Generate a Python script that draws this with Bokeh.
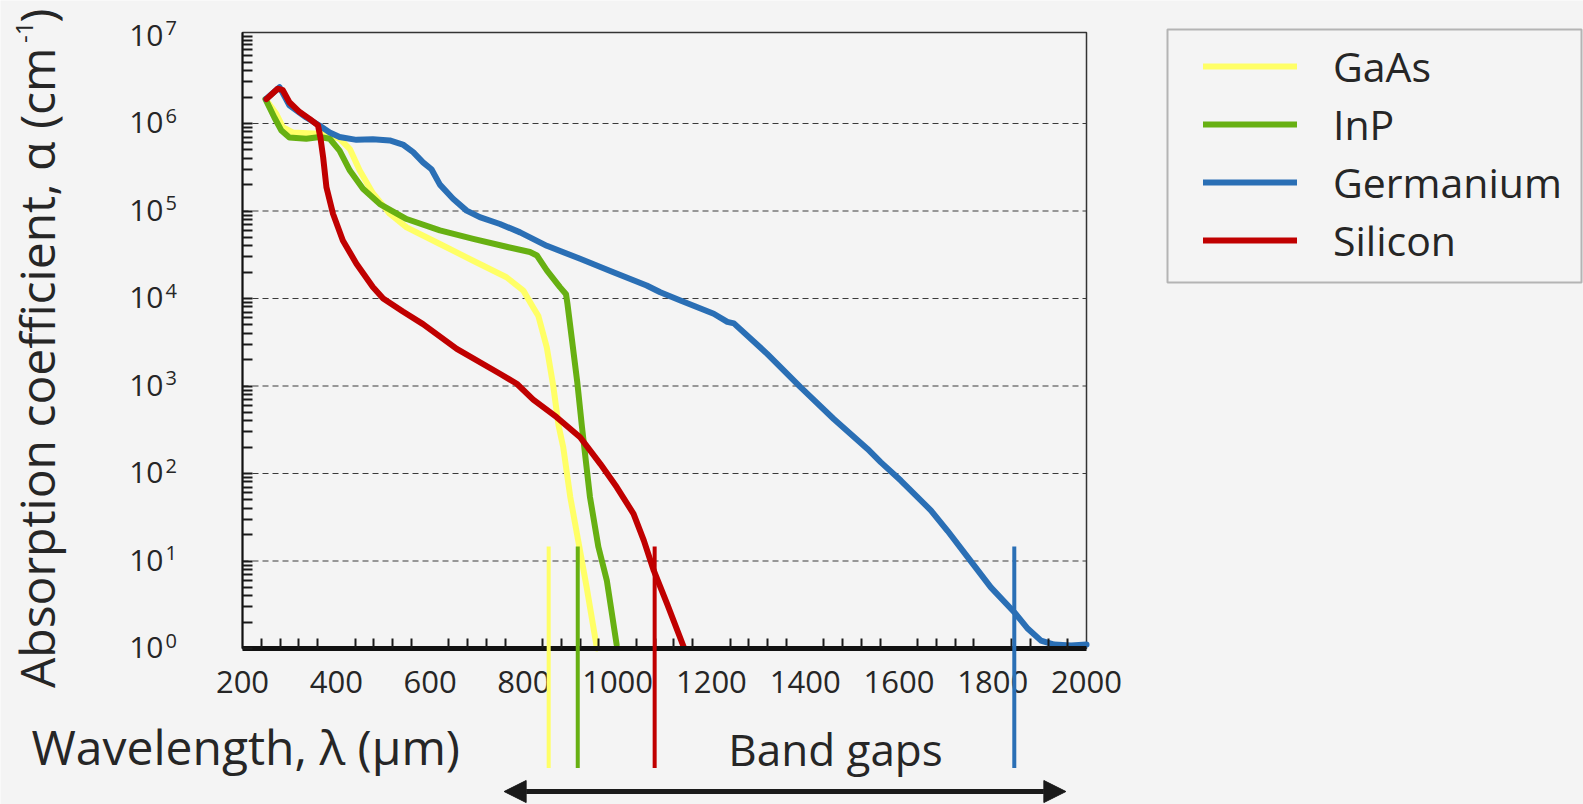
from math import pi
from bokeh.plotting import figure
from bokeh.models import (Range1d, FixedTicker, Label, Arrow, NormalHead, Legend,
                          LegendItem, CustomJSTickFormatter, BoxAnnotation)
from bokeh.embed import file_html
from bokeh.resources import INLINE

# ---------------- data ----------------
wl_gaas = [249, 272, 286, 307, 372, 407, 429, 450, 478, 514, 550, 621, 692, 763,
           799, 820, 831, 849, 863, 874, 884, 899, 916, 934, 956]
a_gaas = [1.9e6, 1.29e6, 9.1e5, 7.9e5, 7.6e5, 6.7e5, 5.1e5, 2.9e5, 1.6e5, 9.3e4,
          6.5e4, 4.2e4, 2.7e4, 1.75e4, 1.23e4, 7.9e3, 6.3e3, 2.75e3, 980, 355,
          200, 54, 17, 5.0, 1.0]

wl_inp = [249, 268, 283, 300, 336, 365, 386, 407, 429, 457, 493, 550, 621, 692,
          763, 813, 828, 849, 877, 890, 893, 902, 914, 924, 941, 959, 977, 998]
a_inp = [1.9e6, 1.17e6, 8.3e5, 6.9e5, 6.7e5, 7.0e5, 6.7e5, 4.9e5, 2.9e5, 1.8e5,
         1.2e5, 8.1e4, 6.0e4, 4.8e4, 3.9e4, 3.4e4, 3.1e4, 2.1e4, 1.35e4, 1.12e4,
         8.7e3, 3.6e3, 1.1e3, 340, 54, 14.5, 6.0, 1.1]

wl_ge = [250, 279, 300, 336, 364, 386, 407, 443, 478, 514, 542, 564, 585, 603,
         621, 649, 678, 706, 749, 792, 849, 920, 991, 1062, 1091, 1134, 1205,
         1234, 1248, 1319, 1390, 1461, 1533, 1561, 1604, 1668, 1704, 1747, 1796,
         1846, 1875, 1903, 1931, 1967, 2000]
a_ge = [1.9e6, 2.6e6, 1.61e6, 1.17e6, 9.5e5, 7.9e5, 7.0e5, 6.5e5, 6.6e5, 6.4e5,
        5.75e5, 4.7e5, 3.6e5, 3.0e5, 2.0e5, 1.38e5, 1.01e5, 8.5e4, 7.1e4, 5.7e4,
        4.0e4, 2.85e4, 2.0e4, 1.41e4, 1.18e4, 9.5e3, 6.7e3, 5.4e3, 5.2e3, 2.33e3,
        970, 420, 191, 135, 83, 38, 22, 11, 5.0, 2.6, 1.68, 1.23, 1.11, 1.08, 1.11]

wl_si = [251, 275, 286, 300, 322, 343, 361, 366, 372, 379, 393, 414, 443, 478,
         500, 542, 585, 657, 749, 785, 820, 870, 920, 963, 998, 1034, 1056, 1077,
         1106, 1141]
a_si = [1.9e6, 2.5e6, 2.4e6, 1.75e6, 1.35e6, 1.13e6, 9.5e5, 7.0e5, 4.1e5, 1.87e5,
        9.3e4, 4.6e4, 2.5e4, 1.35e4, 1.0e4, 7.1e3, 5.1e3, 2.66e3, 1.38e3, 1.06e3,
        700, 440, 260, 129, 70, 34.6, 17.1, 7.8, 3.2, 1.04]

materials = ["GaAs", "InP", "Germanium", "Silicon"]
colors = ["#ffff66", "#67b012", "#2a6fb5", "#c00000"]
bandgap_wl = [853, 915, 1846, 1079]          # same order as materials
bandgap_top = 14.6
bandgap_bottom = 0.043
arrow_wl = [758, 1956]
arrow_alpha = 0.0232

x_min, x_max = 200, 2000
x_ticks = list(range(200, 2001, 200))
x_minor = [w for w in range(240, 2000, 40) if w % 200 != 0]
y_exps = list(range(0, 8))
grid_exps = list(range(1, 7))

FONT = "Open Sans"
TXT = "#262626"
BG = "#f4f4f4"
BASE = 0.4   # empirical shift of Label's alphabetic baseline, in em

# ---------------- geometry (canvas pixels) ----------------
W, H = 1583, 804
X0_PX, X1_PX = 242, 1086       # where x_min / x_max sit
Y0_PX, DEC_PX = 648, 87.5      # where alpha = 1 sits, pixels per decade
TOP_PX = 32                    # top of plotting box
px_per_unit = (X1_PX - X0_PX) / (x_max - x_min)
y_top = 10 ** ((Y0_PX - TOP_PX) / DEC_PX)

p = figure(width=W, height=H,
           x_range=Range1d(x_min - X0_PX / px_per_unit, x_min + (W - X0_PX) / px_per_unit),
           y_range=Range1d(10 ** (-(H - Y0_PX) / DEC_PX), 10 ** (Y0_PX / DEC_PX)),
           y_axis_type="log", output_backend="svg", toolbar_location=None,
           min_border=0, min_border_left=0, min_border_right=0,
           min_border_top=0, min_border_bottom=0)
p.background_fill_color = BG
p.border_fill_color = BG
p.outline_line_alpha = 0
p.xgrid.visible = False
p.ygrid.visible = False

# plot box (top / right borders) and dashed decade grid
p.quad(left=[x_min], right=[x_max], bottom=[1], top=[y_top], fill_alpha=0,
       line_color="#333333", line_width=1.5)
gy = [10.0 ** k for k in grid_exps]
p.segment(x0=[x_min] * len(gy), x1=[x_max] * len(gy), y0=gy, y1=gy,
          line_color="#3a3a3a", line_dash="6 4", line_width=1.2)

# axes drawn at fixed locations inside the frame
xa = p.xaxis[0]
xa.fixed_location = 1
xa.bounds = (x_min, x_max)
xa.ticker = FixedTicker(ticks=x_ticks, minor_ticks=x_minor)
xa.major_tick_in = 0
xa.major_tick_out = 0
xa.minor_tick_in = 10
xa.minor_tick_out = 0
xa.minor_tick_line_width = 2
xa.minor_tick_line_color = "#1a1a1a"
xa.axis_line_width = 5
xa.axis_line_color = "#111111"
xa.major_label_text_font = FONT
xa.major_label_text_font_size = "31px"
xa.major_label_text_color = TXT
xa.major_label_standoff = 22

ya = p.yaxis[0]
ya.fixed_location = x_min
ya.bounds = (1, y_top)
ya.ticker = FixedTicker(ticks=[10.0 ** k for k in y_exps],
                        minor_ticks=[m * 10.0 ** k for k in y_exps[:-1] for m in range(2, 10)])
ya.formatter = CustomJSTickFormatter(code="return ''")
ya.major_tick_in = 10
ya.major_tick_out = 0
ya.minor_tick_in = 10
ya.minor_tick_out = 0
ya.major_tick_line_width = 2
ya.minor_tick_line_width = 2
ya.major_tick_line_color = "#1a1a1a"
ya.minor_tick_line_color = "#1a1a1a"
ya.axis_line_width = 2
ya.axis_line_color = "#111111"

# ---------------- curves ----------------
series = [(wl_gaas, a_gaas), (wl_inp, a_inp), (wl_ge, a_ge), (wl_si, a_si)]
renderers = {}
for i in range(4):
    xs, ys = series[i]
    renderers[i] = p.line(xs, ys, line_color=colors[i], line_width=6,
                          line_join="round", line_cap="round")

# band-gap markers
for i in range(4):
    p.add_layout(Arrow(x_start=bandgap_wl[i], y_start=bandgap_top,
                       x_end=bandgap_wl[i], y_end=bandgap_bottom, end=None,
                       line_color=colors[i], line_width=4))

# double arrow + label
p.add_layout(Arrow(x_start=arrow_wl[0], y_start=arrow_alpha, x_end=arrow_wl[1], y_end=arrow_alpha,
                   start=NormalHead(size=22, fill_color="#1a1a1a", line_color="#1a1a1a"),
                   end=NormalHead(size=22, fill_color="#1a1a1a", line_color="#1a1a1a"),
                   line_color="#1a1a1a", line_width=5))


def hlabel(text, x, baseline, size, align="left"):
    p.add_layout(Label(x=x, y=H - baseline + BASE * size, x_units="screen", y_units="screen",
                       text=text, text_align=align, text_baseline="alphabetic",
                       text_font=FONT, text_font_size=f"{size}px", text_color=TXT))


def vlabel(text, baseline_x, end_y, size):
    p.add_layout(Label(x=baseline_x - BASE * size, y=H - end_y, x_units="screen",
                       y_units="screen", text=text, angle=pi / 2, text_align="right",
                       text_baseline="alphabetic", text_font=FONT,
                       text_font_size=f"{size}px", text_color=TXT))


hlabel("Band gaps", 835, 766, 44, "center")
hlabel("Wavelength, \u03bb (\u03bcm)", 31, 765, 48)

# y tick labels 10^k
for k in y_exps:
    p.add_layout(Label(x=163, y=10.0 ** k, x_units="screen", y_units="data", text="10",
                       text_align="right", text_baseline="alphabetic",
                       y_offset=-11 + BASE * 30,
                       text_font=FONT, text_font_size="30px", text_color=TXT))
    p.add_layout(Label(x=165, y=10.0 ** k, x_units="screen", y_units="data", text=str(k),
                       text_align="left", text_baseline="alphabetic", y_offset=BASE * 20,
                       text_font=FONT, text_font_size="20px", text_color=TXT))

# y axis title with superscript
vlabel("Absorption coefficient, \u03b1 (cm", 55, 47, 48)
vlabel("-1", 34, 21, 24)
vlabel(")", 55, 8, 48)

# legend
legend = Legend(items=[LegendItem(label=materials[i], renderers=[renderers[i]]) for i in range(4)],
                location=(1189, H - 282), label_text_font=FONT, label_text_font_size="41px",
                label_text_color=TXT, glyph_width=94, glyph_height=50, label_height=50,
                spacing=2, padding=14, label_standoff=36, border_line_alpha=0,
                background_fill_alpha=0)
p.add_layout(legend)
p.add_layout(BoxAnnotation(left=1167, right=1581, top=H - 29, bottom=H - 282,
                           left_units="screen", right_units="screen",
                           top_units="screen", bottom_units="screen",
                           fill_alpha=0, line_color="#222222", line_width=2))

open("out.html", "w").write(file_html(p, INLINE))
